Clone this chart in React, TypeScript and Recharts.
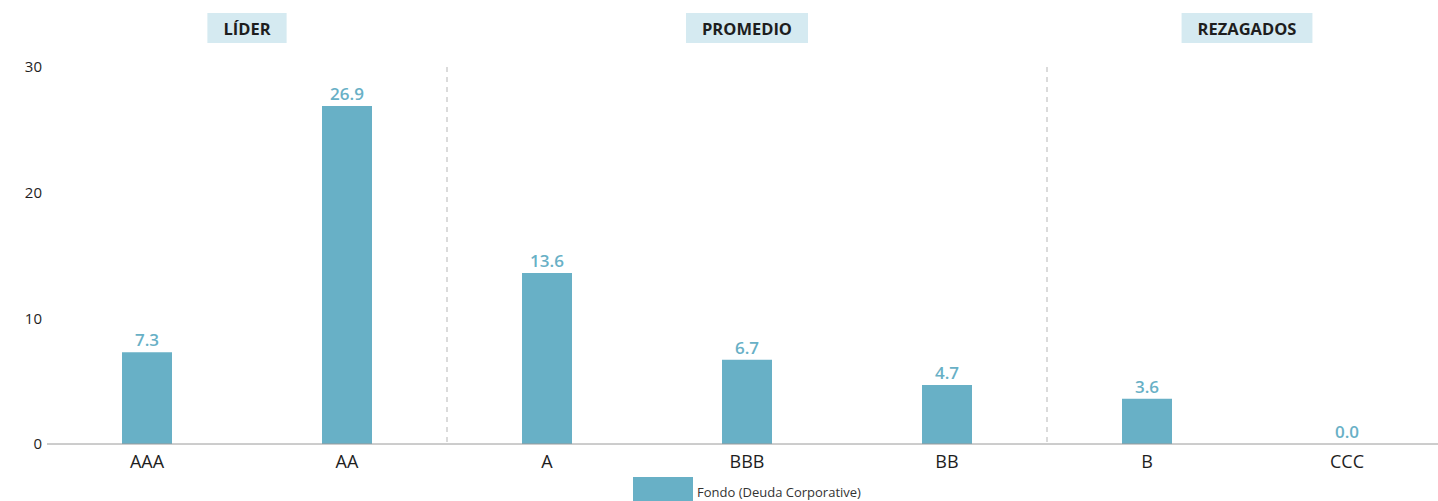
import React, { useLayoutEffect, useRef, useState } from 'react';
import { BarChart, Bar, XAxis, YAxis, LabelList, Legend, ReferenceArea } from 'recharts';

const categories = ['AAA', 'AA', 'A', 'BBB', 'BB', 'B', 'CCC'];
const fondoValues = [7.3, 26.9, 13.6, 6.7, 4.7, 3.6, 0.0];
const yTicks = [0, 10, 20, 30];
const seriesName = 'Fondo (Deuda Corporative)';
const groupLabels = ['LÍDER', 'PROMEDIO', 'REZAGADOS'];
const groupFrom = ['AAA', 'A', 'B'];
const groupTo = ['AA', 'BB', 'CCC'];
const groupDivided = [false, true, false];

const data = categories.map((c, i) => ({ name: c, fondo: fondoValues[i] }));

const FONT = '"Open Sans", "Noto Sans", sans-serif';
const BAR_COLOR = '#68b0c6';

function GroupHeader(props: any) {
  const { viewBox, text, divided } = props;
  const ref = useRef<SVGTextElement>(null);
  const [w, setW] = useState(0);
  useLayoutEffect(() => {
    if (ref.current) setW(ref.current.getBBox().width);
  }, [text]);
  if (!viewBox) return null;
  const { x, y, width, height } = viewBox;
  const cx = x + width / 2;
  const boxW = w + 32;
  return (
    <g>
      {divided && (
        <>
          <line x1={x} x2={x} y1={y} y2={y + height} stroke="#c4c4c4" strokeWidth={1.2} strokeDasharray="5 5" />
          <line x1={x + width} x2={x + width} y1={y} y2={y + height} stroke="#c4c4c4" strokeWidth={1.2} strokeDasharray="5 5" />
        </>
      )}
      <rect x={cx - boxW / 2} y={y - 54} width={boxW} height={30} fill="#d5eaf1" />
      <text
        ref={ref}
        x={cx}
        y={y - 39}
        textAnchor="middle"
        dominantBaseline="central"
        fontFamily={FONT}
        fontSize={16.5}
        fontWeight={700}
        fill="#1e1e1e"
      >
        {text}
      </text>
    </g>
  );
}

const renderLegend = () => (
  <div style={{ display: 'flex', justifyContent: 'center', alignItems: 'center', fontFamily: FONT }}>
    <span style={{ display: 'inline-block', width: 60, height: 30, background: BAR_COLOR }} />
    <span style={{ fontSize: 13, marginLeft: 4, color: '#333' }}>{seriesName}</span>
  </div>
);

export default function App() {
  return (
    <div
      style={{
        fontFamily: FONT,
        width: 1438,
        height: 501,
        overflow: 'hidden',
        boxSizing: 'border-box',
        paddingTop: 8,
        paddingLeft: 8,
      }}
    >
      <style>{`html,body{overflow:hidden;margin:0;padding:0;}`}</style>
      <BarChart
        width={1440}
        height={499}
        data={data}
        margin={{ top: 59, right: 1, left: 9, bottom: 0 }}
      >
        <XAxis
          dataKey="name"
          height={33}
          tickLine={false}
          tickSize={0}
          tickMargin={11}
          axisLine={{ stroke: '#9a9a9a' }}
          tick={{ fontSize: 18, fill: '#1e1e1e', fontFamily: FONT }}
          interval={0}
        />
        <YAxis
          width={30}
          domain={[0, 30]}
          ticks={yTicks}
          axisLine={false}
          tickLine={false}
          tickSize={0}
          tickMargin={5}
          tick={{ fontSize: 15, fill: '#1e1e1e', fontFamily: FONT }}
        />
        {groupLabels.map((g, i) => (
          <ReferenceArea
            key={g}
            x1={groupFrom[i]}
            x2={groupTo[i]}
            fill="none"
            fillOpacity={0}
            stroke="none"
            label={<GroupHeader text={g} divided={groupDivided[i]} />}
          />
        ))}
        <Bar dataKey="fondo" name={seriesName} fill={BAR_COLOR} barSize={50} minPointSize={0.01} isAnimationActive={false}>
          <LabelList
            dataKey="fondo"
            position="top"
            offset={6}
            formatter={(v: any) => Number(v).toFixed(1)}
            style={{ fill: BAR_COLOR, fontSize: 17, fontWeight: 600, fontFamily: FONT }}
          />
        </Bar>
        <Legend
          verticalAlign="bottom"
          content={renderLegend}
          wrapperStyle={{ left: 39, width: 1400 }}
        />
      </BarChart>
    </div>
  );
}
